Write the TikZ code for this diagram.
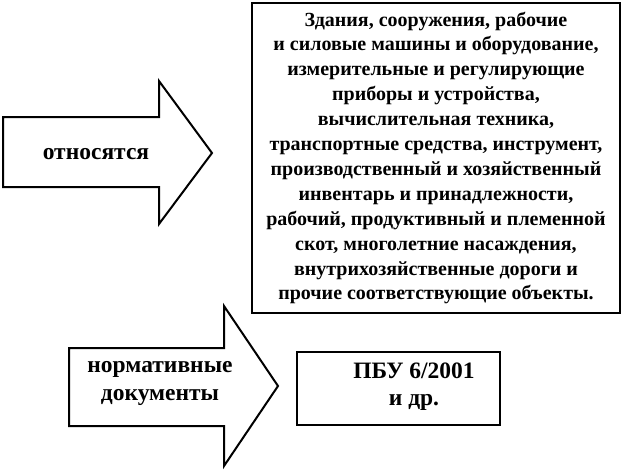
\documentclass[tikz,border=0pt]{standalone}
\usepackage{fontspec}
\setmainfont{Liberation Serif}
\begin{document}
\begin{tikzpicture}[x=1pt,y=-1pt,
  shape line/.style={draw=black,line width=2pt,line join=miter,fill=white},
  boxtext/.style={font=\bfseries\fontsize{20}{24.9}\selectfont,align=center},
  labtext/.style={font=\bfseries\fontsize{23.5}{27.5}\selectfont,align=center},
  smallbox/.style={draw=black,line width=2pt,fill=white,minimum width=203pt,minimum height=73pt,inner sep=0pt}]
\useasboundingbox (0,0) rectangle (624,472);
% arrow 1
\draw[shape line] (3,117) -- (159,117) -- (159,81) -- (212,153) -- (159,224) -- (159,187) -- (3,187) -- cycle;
\node[labtext] (lab1) at (96,154) {относятся};
% big box
\node[draw=black,line width=2pt,fill=white,minimum width=368pt,minimum height=310pt,inner sep=0pt,boxtext] (big) at (436,158)
 {Здания, сооружения, рабочие\\
 и силовые машины и оборудование,\\
 измерительные и регулирующие\\
 приборы и устройства,\\
 вычислительная техника,\\
 транспортные средства, инструмент,\\
 производственный и хозяйственный\\
 инвентарь и принадлежности,\\
 рабочий, продуктивный и племенной\\
 скот, многолетние насаждения,\\
 внутрихозяйственные дороги и\\
 прочие соответствующие объекты.};
% arrow 2
\draw[shape line] (69,348) -- (224,348) -- (224,306) -- (278,386) -- (224,466) -- (224,426) -- (69,426) -- cycle;
\node[labtext] (lab2) at (160,383.5) {нормативные\\документы};
% small box
\node[smallbox] (small) at (398.5,388.5) {};
\node[labtext] (smalltext) at ([xshift=15.5pt,yshift=2pt]small.center) {ПБУ 6/2001\\и др.};
\end{tikzpicture}
\end{document}
